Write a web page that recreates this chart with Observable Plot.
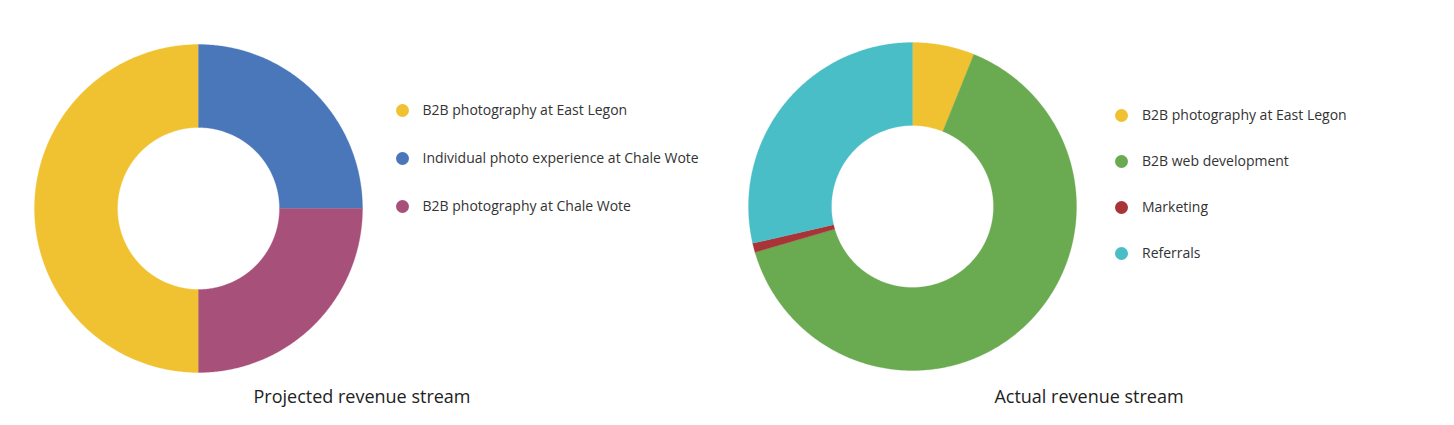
<!DOCTYPE html>
<html><head><meta charset="utf-8">
<script src="https://cdn.jsdelivr.net/npm/d3@7"></script>
<script src="https://cdn.jsdelivr.net/npm/@observablehq/plot@0.6"></script>
<style>
body{margin:0;background:#fff;font-family:"Open Sans",sans-serif;}
#root{position:relative;width:1454px;height:425px;overflow:hidden;background:#fff;}
.chart{position:absolute;}
.item{position:absolute;white-space:nowrap;font-size:14px;color:#333;line-height:18px;height:18px;}
.dot{position:absolute;left:0;top:2.5px;width:13px;height:13px;border-radius:50%;}
.lab{position:absolute;left:27px;top:0;}
.title{position:absolute;font-size:18px;color:#222;line-height:24px;transform:translateX(-50%);white-space:nowrap;}
</style></head>
<body><div id="root"></div>
<script>
// ---- data ----
const projectedLabels = ["B2B photography at East Legon", "Individual photo experience at Chale Wote", "B2B photography at Chale Wote"];
const projectedValues = [50, 25, 25];
const projectedColors = ["#f0c231", "#4a76ba", "#a7517a"];
const projectedTitle = "Projected revenue stream";

const actualLabels = ["B2B photography at East Legon", "B2B web development", "Marketing", "Referrals"];
const actualValues = [6.1, 64.4, 0.9, 28.6];
const actualColors = ["#f0c231", "#6aaa50", "#a83437", "#4abec7"];
const actualTitle = "Actual revenue stream";

// ---- layout ----
const R = 164, r0 = 81, half = 166;
const panels = [
  {labels: projectedLabels, values: projectedValues, colors: projectedColors, title: projectedTitle,
   cx: 198, cy: 208, start: Math.PI, legendX: 402, legendY: 110, legendStep: 48, titleX: 362, titleY: 384},
  {labels: actualLabels, values: actualValues, colors: actualColors, title: actualTitle,
   cx: 912, cy: 206, start: 0, legendX: 1121.5, legendY: 115, legendStep: 46, titleX: 1089, titleY: 384}
];

const root = document.getElementById("root");

function slicePoints(p) {
  const arcs = d3.pie().sort(null).startAngle(p.start).endAngle(p.start + 2 * Math.PI)
    .value(d => d.value)(p.labels.map((label, i) => ({label, value: p.values[i]})));
  const pts = [];
  arcs.forEach(a => {
    const n = Math.max(2, Math.ceil((a.endAngle - a.startAngle) / (Math.PI / 360)));
    const ring = [];
    for (let k = 0; k <= n; k++) {
      const t = a.startAngle + (a.endAngle - a.startAngle) * k / n;
      ring.push({label: a.data.label, x: R * Math.sin(t), y: R * Math.cos(t)});
    }
    for (let k = n; k >= 0; k--) {
      const t = a.startAngle + (a.endAngle - a.startAngle) * k / n;
      ring.push({label: a.data.label, x: r0 * Math.sin(t), y: r0 * Math.cos(t)});
    }
    ring.push(ring[0]);
    pts.push(...ring);
  });
  return pts;
}

panels.forEach(p => {
  const pts = slicePoints(p);
  const svg = Plot.plot({
    width: 2 * half, height: 2 * half,
    margin: 0,
    x: {domain: [-half, half], axis: null},
    y: {domain: [-half, half], axis: null},
    color: {domain: p.labels, range: p.colors},
    marks: [
      Plot.line(pts, {x: "x", y: "y", z: "label", fill: "label", stroke: "label", strokeWidth: 0.3, curve: "linear"})
    ]
  });
  const wrap = document.createElement("div");
  wrap.className = "chart";
  wrap.style.left = (p.cx - half) + "px";
  wrap.style.top = (p.cy - half) + "px";
  wrap.appendChild(svg);
  root.appendChild(wrap);

  p.labels.forEach((lab, i) => {
    const it = document.createElement("div");
    it.className = "item";
    it.style.left = (p.legendX - 6.5) + "px";
    it.style.top = (p.legendY + i * p.legendStep - 9) + "px";
    const d = document.createElement("span");
    d.className = "dot";
    d.style.background = p.colors[i];
    const t = document.createElement("span");
    t.className = "lab";
    t.textContent = lab;
    it.appendChild(d); it.appendChild(t);
    root.appendChild(it);
  });

  const ti = document.createElement("div");
  ti.className = "title";
  ti.style.left = p.titleX + "px";
  ti.style.top = p.titleY + "px";
  ti.textContent = p.title;
  root.appendChild(ti);
});
</script>
</body></html>
